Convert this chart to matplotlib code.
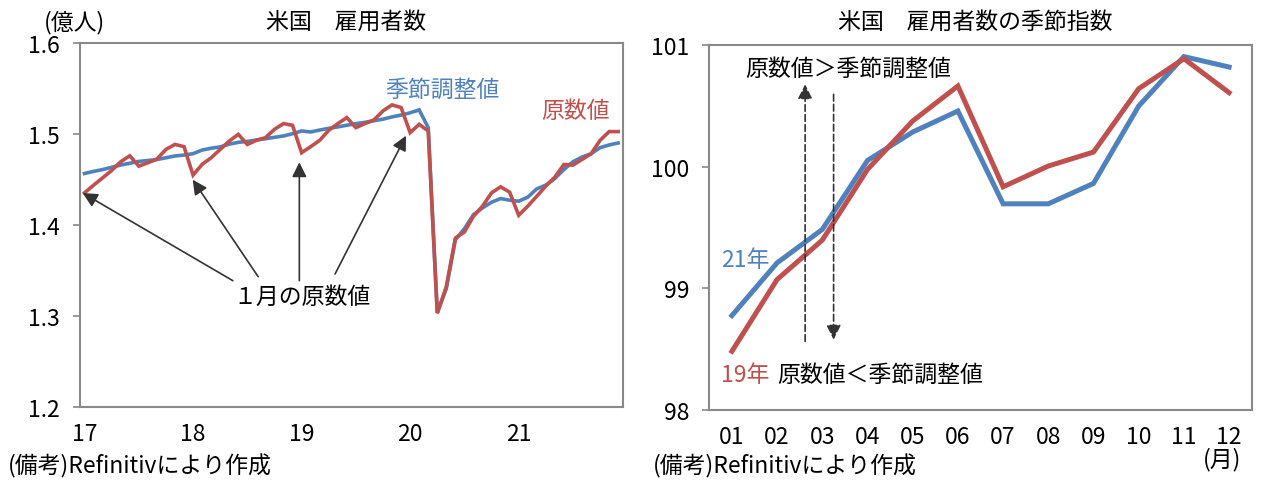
import matplotlib
matplotlib.use('Agg')
import matplotlib.pyplot as plt

plt.rcParams['font.family'] = ['Noto Sans CJK JP', 'DejaVu Sans']

# 左: 米国 雇用者数 (億人), 2017/01 - 2021/12 の月次
sa_values = [
    1.4567, 1.459, 1.461, 1.4635, 1.466, 1.468, 1.470, 1.471, 1.472, 1.474, 1.476, 1.477,
    1.4785, 1.4825, 1.4845, 1.486, 1.489, 1.491, 1.492, 1.4936, 1.495, 1.4965, 1.498, 1.5005,
    1.5035, 1.5024, 1.5045, 1.5064, 1.508, 1.5098, 1.5115, 1.513, 1.5148, 1.5165, 1.519, 1.521,
    1.5235, 1.5267, 1.5072, 1.3035, 1.330, 1.3838, 1.3959, 1.4114, 1.4188, 1.4251, 1.4291, 1.4273,
    1.4262, 1.4306, 1.4398, 1.4439, 1.4512, 1.4611, 1.4696, 1.4748, 1.4784, 1.4851, 1.4881, 1.4903,
]
raw_values = [
    1.4354, 1.4438, 1.4519, 1.4600, 1.4696, 1.4762, 1.4648, 1.4685, 1.4726, 1.4832, 1.4887, 1.4862,
    1.4549, 1.4667, 1.4740, 1.4832, 1.4924, 1.4998, 1.4887, 1.4932, 1.4961, 1.5053, 1.5116, 1.5097,
    1.4796, 1.4862, 1.4932, 1.5042, 1.5116, 1.5182, 1.5072, 1.5116, 1.5157, 1.5256, 1.5322, 1.5293,
    1.5017, 1.5108, 1.5035, 1.3028, 1.3323, 1.3856, 1.3923, 1.4096, 1.4207, 1.4354, 1.4420, 1.4361,
    1.4107, 1.4207, 1.4317, 1.4428, 1.4527, 1.4666, 1.4659, 1.4721, 1.4784, 1.4932, 1.5028, 1.5028,
]
year_labels = ['17', '18', '19', '20', '21']

# 右: 季節指数
months = ['01', '02', '03', '04', '05', '06', '07', '08', '09', '10', '11', '12']
idx_2021 = [98.775, 99.209, 99.484, 100.052, 100.286, 100.459,
            99.695, 99.695, 99.863, 100.500, 100.907, 100.821]
idx_2019 = [98.481, 99.072, 99.396, 99.978, 100.377, 100.665,
            99.835, 100.006, 100.121, 100.643, 100.890, 100.610]

BLUE = '#4F81BD'
RED = '#C0504D'
GRID = '#898989'
DARK = '#333333'
FS = 16.5

W, H = 1279, 502
fig = plt.figure(figsize=(W / 100, H / 100), dpi=100)


def px_axes(x0, y0, x1, y1):
    return fig.add_axes([x0 / W, 1 - y1 / H, (x1 - x0) / W, (y1 - y0) / H])


def style_axes(ax):
    for s in ax.spines.values():
        s.set_color(GRID)
        s.set_linewidth(1.5)
    ax.tick_params(axis='y', length=5, width=1.2, color=GRID, pad=9.5, labelsize=FS)
    ax.tick_params(axis='x', length=0, pad=11, labelsize=FS)


# ---- 左グラフ ----
ax1 = px_axes(80, 44.3, 622.7, 407.7)
style_axes(ax1)
xs = list(range(len(raw_values)))
ax1.plot(xs, sa_values, color=BLUE, lw=2.6, solid_joinstyle='miter')
ax1.plot(xs, raw_values, color=RED, lw=2.6, solid_joinstyle='miter')
ax1.set_xlim(-0.5, len(raw_values) - 0.5)
ax1.set_ylim(1.2, 1.6)
ax1.set_yticks([1.2, 1.3, 1.4, 1.5, 1.6])
ax1.set_yticklabels(['1.2', '1.3', '1.4', '1.5', '1.6'])
ax1.set_xticks(range(0, len(raw_values), 12))
ax1.set_xticklabels(year_labels)

ax1.text(33.2, 1.5497, '季節調整値', color=BLUE, fontsize=FS, ha='left', va='center')
ax1.text(50.5, 1.5255, '原数値', color=RED, fontsize=FS, ha='left', va='center')
ax1.text(24.05, 1.3219, '１月の原数値', color='black', fontsize=FS, ha='center', va='center')

arrows = [
    ((16.4, 1.3387), (-0.2, 1.4352)),
    ((19.2, 1.3431), (11.96, 1.4499)),
    ((23.75, 1.3387), (23.75, 1.4690)),
    ((27.7, 1.3461), (35.54, 1.4983)),
]
for tail, head in arrows:
    ax1.annotate('', xy=head, xytext=tail,
                 arrowprops=dict(arrowstyle='-|>', color=DARK, lw=1.2,
                                 mutation_scale=22, shrinkA=0, shrinkB=0))

fig.text(346 / W, 1 - 22 / H, '米国　雇用者数', fontsize=FS, ha='center', va='center')
fig.text(44 / W, 1 - 23 / H, '(億人)', fontsize=FS, ha='left', va='center')
fig.text(8 / W, 1 - 466 / H, '(備考)Refinitivにより作成', fontsize=FS, ha='left', va='center')

# ---- 右グラフ ----
ax2 = px_axes(709.3, 46.3, 1251.7, 410.7)
style_axes(ax2)
mx = list(range(len(months)))
ax2.plot(mx, idx_2021, color=BLUE, lw=3.6, solid_joinstyle='miter')
ax2.plot(mx, idx_2019, color=RED, lw=3.6, solid_joinstyle='miter')
ax2.set_xlim(-0.5, len(months) - 0.5)
ax2.set_ylim(98, 101)
ax2.set_yticks([98, 99, 100, 101])
ax2.set_xticks(mx)
ax2.set_xticklabels(months)

ax2.text(0.3, 100.81, '原数値＞季節調整値', fontsize=FS, ha='left', va='center')
ax2.text(1.0, 98.29, '原数値＜季節調整値', fontsize=FS, ha='left', va='center')
ax2.text(-0.24, 99.24, '21年', color=BLUE, fontsize=FS, ha='left', va='center')
ax2.text(-0.24, 98.29, '19年', color=RED, fontsize=FS, ha='left', va='center')

ax2.annotate('', xy=(1.62, 100.679), xytext=(1.62, 98.563),
             arrowprops=dict(arrowstyle='-|>', color=DARK, lw=1.2, linestyle=(0, (4, 2)),
                             mutation_scale=22, shrinkA=0, shrinkB=0))
ax2.annotate('', xy=(2.25, 98.577), xytext=(2.25, 100.596),
             arrowprops=dict(arrowstyle='-|>', color=DARK, lw=1.2, linestyle=(0, (4, 2)),
                             mutation_scale=22, shrinkA=0, shrinkB=0))

fig.text(975 / W, 1 - 22 / H, '米国　雇用者数の季節指数', fontsize=FS, ha='center', va='center')
fig.text(1222 / W, 1 - 460 / H, '(月)', fontsize=FS, ha='center', va='center')
fig.text(653 / W, 1 - 466 / H, '(備考)Refinitivにより作成', fontsize=FS, ha='left', va='center')

fig.savefig('out.png', dpi=100)
